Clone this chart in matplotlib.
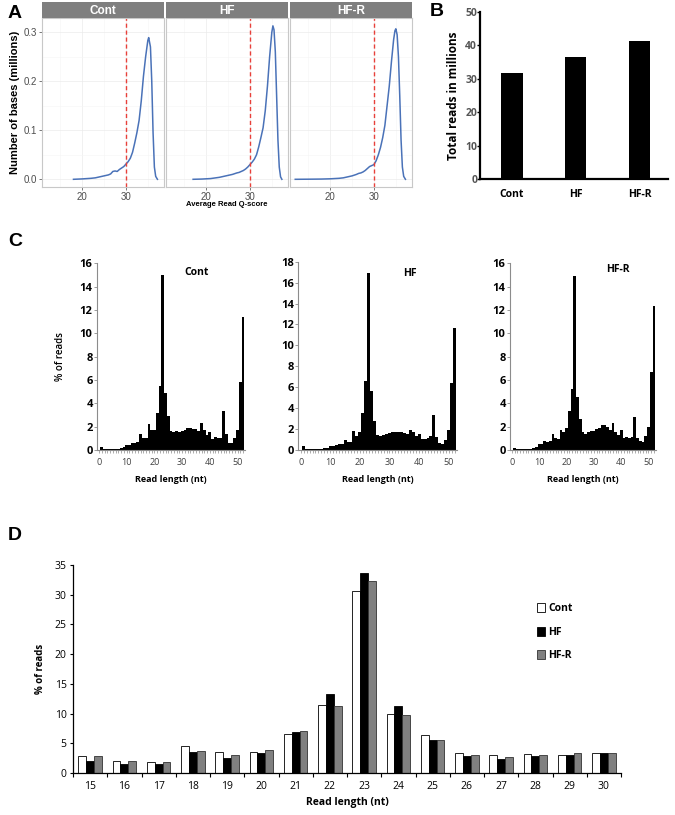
import numpy as np
import matplotlib
matplotlib.use("Agg")
import matplotlib.pyplot as plt
from matplotlib.ticker import MultipleLocator, FixedLocator

# ---- panel A: read quality density (millions of bases) ----
groups = ["Cont", "HF", "HF-R"]
q_cont = [18.0, 20.0, 22.0, 23.0, 24.0, 25.0, 26.0, 26.5, 27.0, 27.5, 28.0, 28.5, 29.0, 29.5,
          30.0, 30.5, 31.0, 31.5, 32.0, 32.5, 33.0, 33.5, 34.0, 34.5, 35.0, 35.2, 35.6, 35.9,
          36.2, 36.5, 36.8, 37.2]
d_cont = [0.0, 0.0008, 0.002, 0.003, 0.005, 0.007, 0.009, 0.011, 0.016, 0.017, 0.016, 0.020,
          0.023, 0.026, 0.031, 0.036, 0.043, 0.055, 0.074, 0.095, 0.12, 0.16, 0.21, 0.25, 0.283,
          0.289, 0.27, 0.20, 0.095, 0.025, 0.006, 0.0]
q_hf = [17.0, 19.0, 21.0, 23.0, 24.0, 25.0, 26.0, 27.0, 27.5, 28.0, 28.5, 29.0, 29.5, 30.0,
        30.5, 31.0, 31.5, 32.0, 32.5, 33.0, 33.5, 34.0, 34.5, 35.0, 35.25, 35.5, 35.8, 36.1,
        36.4, 36.7, 37.0, 37.3]
d_hf = [0.0, 0.0005, 0.0015, 0.004, 0.006, 0.008, 0.010, 0.013, 0.014, 0.016, 0.018, 0.021,
        0.025, 0.030, 0.035, 0.041, 0.050, 0.066, 0.085, 0.105, 0.14, 0.19, 0.25, 0.30, 0.313,
        0.305, 0.26, 0.17, 0.08, 0.025, 0.005, 0.0]
q_hfr = [12.0, 16.0, 18.0, 20.0, 22.0, 23.0, 24.0, 25.0, 26.0, 26.5, 27.0, 27.5, 28.0, 28.5,
         29.0, 29.5, 30.0, 30.5, 31.0, 31.5, 32.0, 32.5, 33.0, 33.5, 34.0, 34.5, 34.8, 35.0,
         35.3, 35.6, 35.9, 36.2, 36.5, 36.8, 37.2]
d_hfr = [0.0, 0.0003, 0.0005, 0.001, 0.002, 0.003, 0.005, 0.007, 0.010, 0.012, 0.013, 0.015,
         0.018, 0.022, 0.026, 0.028, 0.030, 0.038, 0.050, 0.065, 0.085, 0.11, 0.15, 0.19, 0.24,
         0.285, 0.303, 0.307, 0.295, 0.25, 0.17, 0.08, 0.025, 0.006, 0.0]

# ---- panel B: total reads ----
total_reads = [31.8, 36.4, 41.2]

# ---- panel C: read length distribution, lengths 1..52 ----
lengths = list(range(1, 53))
pct_cont = [0.25, 0.05, 0.05, 0.05, 0.05, 0.05, 0.1, 0.2, 0.25, 0.4, 0.45, 0.6, 0.6, 0.7,
            1.4, 1.0, 1.0, 2.2, 1.75, 1.75, 3.2, 5.5, 15.0, 4.9, 2.9, 1.6, 1.5, 1.6, 1.5, 1.6,
            1.7, 1.85, 1.85, 1.8, 1.8, 1.65, 2.35, 1.7, 1.3, 1.5, 0.95, 1.1, 1.0, 1.0, 3.35,
            1.4, 0.6, 0.6, 1.0, 1.7, 5.8, 11.4]
pct_hf = [0.35, 0.05, 0.05, 0.05, 0.05, 0.05, 0.1, 0.15, 0.2, 0.4, 0.4, 0.5, 0.55, 0.6,
          1.0, 0.8, 0.8, 1.8, 1.35, 1.75, 3.5, 6.6, 16.9, 5.6, 2.8, 1.45, 1.3, 1.4, 1.5, 1.65,
          1.7, 1.75, 1.75, 1.7, 1.65, 1.55, 1.9, 1.7, 1.35, 1.5, 1.05, 1.05, 1.1, 1.35, 3.35,
          1.25, 0.7, 0.6, 1.0, 1.9, 6.4, 11.7]
pct_hfr = [0.2, 0.05, 0.05, 0.08, 0.08, 0.08, 0.1, 0.2, 0.25, 0.55, 0.55, 0.8, 0.7, 0.75,
           1.4, 1.0, 0.95, 1.75, 1.55, 1.85, 3.3, 5.2, 14.9, 4.5, 2.65, 1.5, 1.35, 1.55, 1.6,
           1.65, 1.8, 1.9, 2.15, 2.1, 2.0, 1.75, 2.3, 1.5, 1.25, 1.7, 1.0, 1.15, 1.05, 1.15,
           2.8, 1.05, 0.75, 0.7, 1.2, 1.95, 6.7, 12.3]

# ---- panel D: 15-30 nt ----
d_lengths = [str(n) for n in range(15, 31)]
d_cont_pct = [2.8, 2.0, 1.9, 4.5, 3.6, 3.6, 6.6, 11.4, 30.7, 10.0, 6.4, 3.3, 3.0, 3.2, 3.0, 3.3]
d_hf_pct = [2.0, 1.5, 1.5, 3.5, 2.6, 3.4, 6.9, 13.3, 33.7, 11.3, 5.6, 2.8, 2.3, 2.8, 3.0, 3.3]
d_hfr_pct = [2.9, 2.0, 1.9, 3.7, 3.1, 3.8, 7.1, 11.3, 32.3, 9.7, 5.6, 3.1, 2.7, 3.1, 3.4, 3.4]

W, H = 675, 815
fig = plt.figure(figsize=(W / 100, H / 100), dpi=100)
fig.patch.set_facecolor("white")


def px_axes(left, top, width, height, **kw):
    return fig.add_axes([left / W, 1 - (top + height) / H, width / W, height / H], **kw)


XL = "Open Sans"  # excel-ish look for B, C, D
GG = "Liberation Sans"

# ================= A =================
curves = [(q_cont, d_cont), (q_hf, d_hf), (q_hfr, d_hfr)]
a_lefts = [42, 166, 290]
for i, (name, (qx, qy)) in enumerate(zip(groups, curves)):
    ax = px_axes(a_lefts[i], 18, 122, 169)
    ax.set_xlim(10.8, 38.7)
    ax.set_ylim(-0.0157, 0.329)
    ax.xaxis.set_major_locator(FixedLocator([20, 30]))
    ax.xaxis.set_minor_locator(FixedLocator([15, 25, 35]))
    ax.yaxis.set_major_locator(MultipleLocator(0.1))
    ax.yaxis.set_minor_locator(MultipleLocator(0.05))
    ax.grid(True, which="major", color="#ebebeb", lw=0.5)
    ax.grid(True, which="minor", color="#f5f5f5", lw=0.4)
    ax.set_axisbelow(True)
    for s in ax.spines.values():
        s.set_color("#c8c8c8")
        s.set_linewidth(0.8)
    ax.plot(qx, qy, color="#4a72b8", lw=1.1)
    ax.axvline(30, color="#e8403a", ls=(0, (3, 2)), lw=1.0)
    ax.tick_params(which="minor", length=0)
    ax.tick_params(which="major", length=2, width=0.5, color="#444444",
                   labelsize=7, labelcolor="#4d4d4d", pad=1.5)
    for lab in ax.get_xticklabels() + ax.get_yticklabels():
        lab.set_family(GG)
    ax.yaxis.set_major_formatter(matplotlib.ticker.FormatStrFormatter("%.1f"))
    if i == 0:
        ax.set_ylabel("Number of bases (millions)", fontsize=8, fontweight="bold",
                      family=GG, labelpad=3)
    else:
        ax.tick_params(axis="y", left=False, labelleft=False)
    if i == 1:
        ax.set_xlabel("Average Read Q-score", fontsize=5.5, fontweight="bold",
                      family=GG)
        ax.xaxis.set_label_coords(0.5, -0.085)
    strip = px_axes(a_lefts[i], 2, 122, 16)
    strip.set_facecolor("#7f7f7f")
    strip.set_xticks([])
    strip.set_yticks([])
    for s in strip.spines.values():
        s.set_visible(False)
    strip.text(0.5, 0.45, name, ha="center", va="center", color="white",
               fontsize=8.5, fontweight="bold", family=GG, transform=strip.transAxes)

fig.text(8 / W, 1 - 13 / H, "A", fontsize=14, fontweight="bold", family=GG, va="center")

# ================= B =================
axb = px_axes(480, 11.7, 188, 167.3)
xb = np.arange(len(groups))
axb.bar(xb, total_reads, width=0.33, color="black")
axb.set_xlim(-0.5, 2.44)
axb.set_ylim(0, 50)
axb.set_xticks(xb)
axb.set_xticklabels(groups, fontsize=7.5, fontweight="bold", family=XL)
axb.yaxis.set_major_locator(MultipleLocator(10))
axb.tick_params(axis="x", length=0, pad=7)
axb.tick_params(axis="y", length=2, width=1, direction="out", labelsize=7.5,
                labelcolor="#555555", pad=0)
for lab in axb.get_yticklabels():
    lab.set_fontweight("bold")
    lab.set_family(XL)
for s in ["top", "right"]:
    axb.spines[s].set_visible(False)
for s in ["left", "bottom"]:
    axb.spines[s].set_linewidth(1.6)
axb.set_ylabel("Total reads in millions", fontsize=8.5, fontweight="bold", family=XL, labelpad=4)
fig.text(430 / W, 1 - 11 / H, "B", fontsize=14, fontweight="bold", family=GG, va="center")

# ================= C =================
c_data = [pct_cont, pct_hf, pct_hfr]
c_boxes = [(96.8, 148.5, 16, 263.3), (298.3, 158.7, 18, 261.7), (509.8, 146.3, 16, 263.3)]
c_title_xy = [(197, 272), (410, 273), (618, 269)]
for i, vals in enumerate(c_data):
    left, width, ymax, ytop = c_boxes[i]
    ax = px_axes(left, ytop, width, 450 - ytop)
    ax.bar(lengths, vals, width=1.0, color="black", linewidth=0)
    ax.set_xlim(-0.8, 52.8)
    ax.set_ylim(0, ymax)
    ax.xaxis.set_major_locator(MultipleLocator(10))
    ax.xaxis.set_minor_locator(MultipleLocator(1))
    ax.yaxis.set_major_locator(MultipleLocator(2))
    for s in ["top", "right"]:
        ax.spines[s].set_visible(False)
    for s in ["left", "bottom"]:
        ax.spines[s].set_color("#8c8c8c")
        ax.spines[s].set_linewidth(0.8)
    ax.tick_params(axis="x", which="both", direction="out", length=2.5, width=0.5,
                   color="#8c8c8c", labelsize=6.5, labelcolor="#404040", pad=3)
    ax.tick_params(axis="y", direction="out", length=2, width=0.6, color="#8c8c8c",
                   labelsize=8, pad=1)
    for lab in ax.get_yticklabels():
        lab.set_fontweight("bold")
        lab.set_family(XL)
    for lab in ax.get_xticklabels():
        lab.set_family(XL)
    ax.set_xlabel("Read length (nt)", fontsize=6.5, fontweight="bold", family=XL, labelpad=6)
    if i == 0:
        ax.set_ylabel("% of reads", fontsize=7, fontweight="semibold", family=XL, labelpad=10)
    tx, ty = c_title_xy[i]
    fig.text(tx / W, 1 - ty / H, groups[i], fontsize=7.5, fontweight="bold", family=XL,
             ha="center", va="center")

fig.text(8 / W, 1 - 242 / H, "C", fontsize=14, fontweight="bold", family=GG, va="center")

# ================= D =================
axd = px_axes(73, 565, 548, 208)
xd = np.arange(len(d_lengths))
bw = 0.23
axd.bar(xd - bw, d_cont_pct, width=bw, color="white", edgecolor="black", linewidth=0.6,
        label="Cont")
axd.bar(xd, d_hf_pct, width=bw, color="black", edgecolor="black", linewidth=0.6, label="HF")
axd.bar(xd + bw, d_hfr_pct, width=bw, color="#808080", edgecolor="#333333", linewidth=0.6,
        label="HF-R")
axd.set_xlim(-0.5, len(d_lengths) - 0.5)
axd.set_ylim(0, 35)
axd.yaxis.set_major_locator(MultipleLocator(5))
axd.set_xticks(np.arange(-0.5, len(d_lengths)), minor=False)
axd.set_xticklabels([])
axd.set_xticks(xd, minor=True)
axd.set_xticklabels(d_lengths, minor=True, fontsize=7.5, family=XL)
axd.tick_params(axis="x", which="major", direction="out", length=3, width=0.8)
axd.tick_params(axis="x", which="minor", length=0, pad=6)
axd.tick_params(axis="y", direction="out", length=2.5, width=0.8, labelsize=7.5, pad=2)
for lab in axd.get_yticklabels():
    lab.set_family(XL)
for s in ["top", "right"]:
    axd.spines[s].set_visible(False)
for s in ["left", "bottom"]:
    axd.spines[s].set_linewidth(0.9)
axd.set_xlabel("Read length (nt)", fontsize=7.5, fontweight="bold", family=XL, labelpad=3)
axd.set_ylabel("% of reads", fontsize=7, fontweight="bold", family=XL, labelpad=6)
leg = axd.legend(loc="upper left", bbox_to_anchor=(528 / W, 1 - 594 / H),
                 bbox_transform=fig.transFigure, frameon=False, handlelength=0.75,
                 handleheight=0.9, handletextpad=0.3, labelspacing=1.2,
                 prop={"family": XL, "weight": "bold", "size": 7.5})
fig.text(8 / W, 1 - 535 / H, "D", fontsize=14, fontweight="bold", family=GG, va="center")

fig.savefig("out.png", dpi=100)
